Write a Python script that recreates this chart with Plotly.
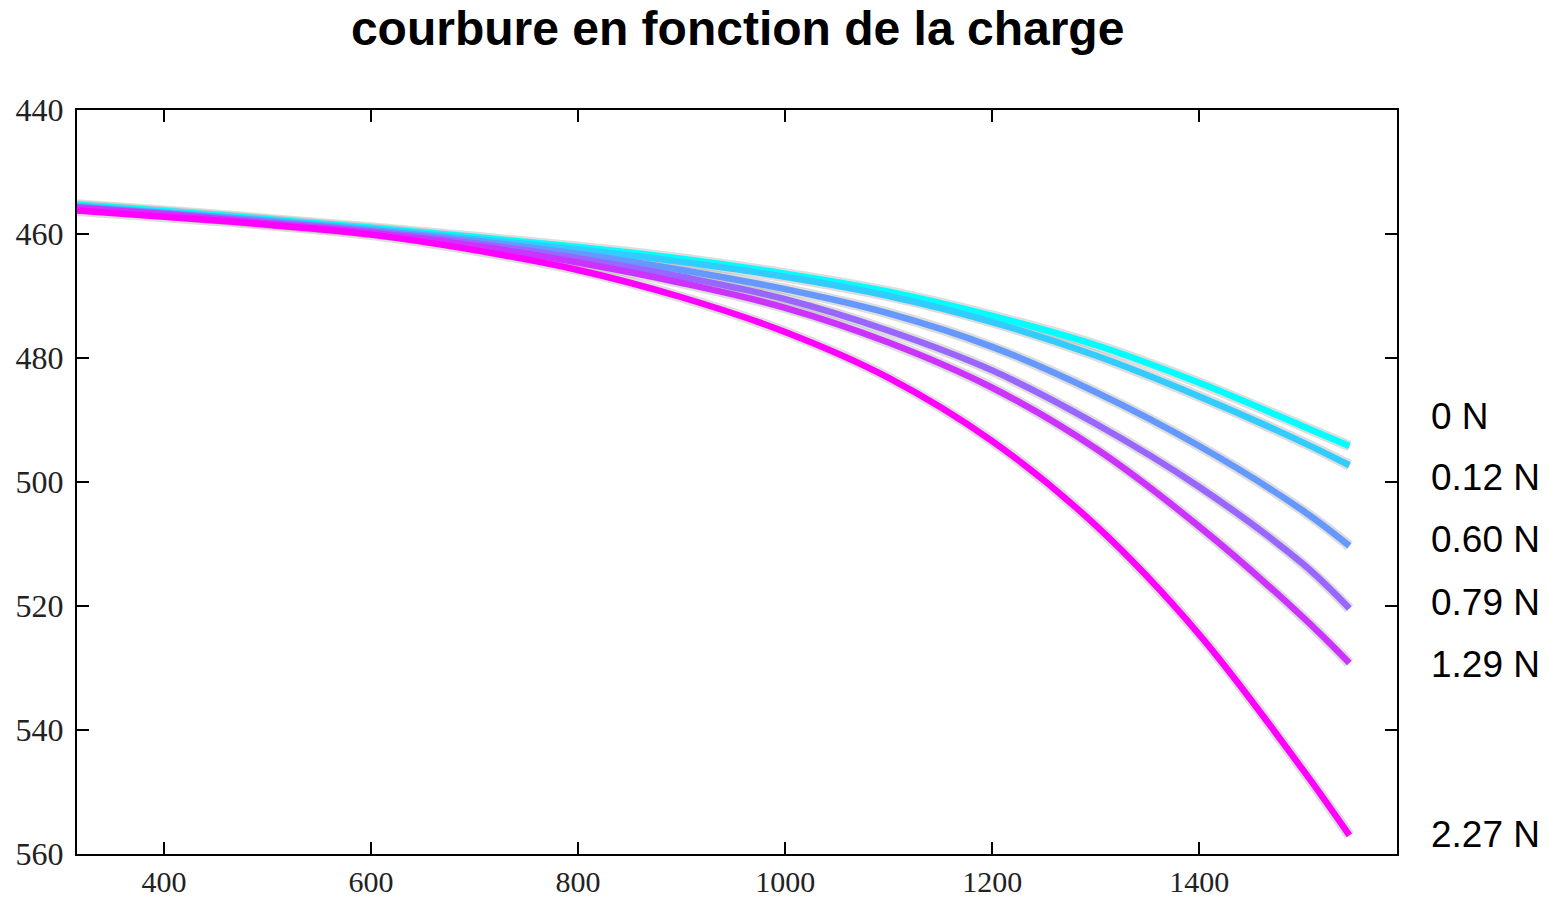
import plotly.graph_objects as go

# Positions along the beam and deflection readings for each applied load
x_pos = [316, 400, 500, 600, 700, 800, 900, 1000, 1100, 1200, 1300, 1400, 1500, 1545]

y_0N = [455.3, 456.3, 457.6, 459.0, 460.5, 462.1, 464.0, 466.4, 469.3, 473.2, 477.9, 484.0, 491.0, 494.2]
y_012N = [455.5, 456.5, 457.8, 459.2, 460.8, 462.5, 464.5, 466.9, 470.0, 474.2, 479.6, 486.2, 493.6, 497.3]
y_060N = [455.6, 456.6, 457.9, 459.4, 461.1, 463.2, 465.8, 468.9, 472.8, 478.2, 485.5, 494.2, 504.6, 510.3]
y_079N = [455.7, 456.7, 458.1, 459.6, 461.5, 463.9, 466.9, 470.5, 475.6, 482.0, 490.6, 500.8, 513.2, 520.4]
y_129N = [455.8, 456.8, 458.3, 459.8, 461.9, 464.6, 467.9, 471.9, 477.5, 484.8, 494.6, 507.2, 521.8, 529.2]
y_227N = [456.2, 457.2, 458.5, 460.1, 462.6, 465.8, 470.2, 475.8, 483.2, 493.4, 507.0, 524.6, 546.4, 557.0]

series = [y_0N, y_012N, y_060N, y_079N, y_129N, y_227N]
colors = ["#00ffff", "#33ccff", "#6699ff", "#9966ff", "#cc33ff", "#ff00ff"]

load_labels = ["0 N", "0.12 N", "0.60 N", "0.79 N", "1.29 N", "2.27 N"]
label_y = [489.5, 499.3, 509.2, 519.5, 529.5, 556.8]

x_ticks = [400, 600, 800, 1000, 1200, 1400]
y_ticks = [440, 460, 480, 500, 520, 540, 560]

fig = go.Figure()

# faint grey trace of the raw measurements under each fitted curve
for ys in series:
    fig.add_trace(go.Scatter(
        x=x_pos, y=ys, mode="lines",
        line=dict(color="rgba(170,170,170,0.4)", width=11, shape="spline"),
        hoverinfo="skip", showlegend=False,
    ))

for ys, c, name in zip(series, colors, load_labels):
    fig.add_trace(go.Scatter(
        x=x_pos, y=ys, mode="lines", name=name,
        line=dict(color=c, width=6.5, shape="spline"),
        showlegend=False,
    ))

for txt, yv in zip(load_labels, label_y):
    fig.add_annotation(
        x=1.0245, xref="paper", y=yv, yref="y",
        text=txt, showarrow=False, xanchor="left", yanchor="middle",
        font=dict(family="Liberation Sans", size=37, color="black"),
    )

axis_common = dict(
    showline=True, linecolor="black", linewidth=2, mirror="ticks",
    ticks="inside", ticklen=12, tickwidth=2, tickcolor="black",
    showgrid=False, zeroline=False, automargin=False,
)

fig.update_layout(
    width=1548, height=899,
    margin=dict(l=77, r=151, t=110, b=45),
    paper_bgcolor="white", plot_bgcolor="white",
    title=dict(
        text="courbure en fonction de la charge",
        x=0.4765, xanchor="center", y=1 - 28 / 899, yanchor="middle",
        font=dict(family="Liberation Sans", size=48, color="black", weight="bold"),
    ),
    xaxis=dict(range=[316, 1591], tickvals=x_ticks, ticklabelstandoff=0,
               tickfont=dict(family="Liberation Serif", size=30, color="#222"),
               **axis_common),
    yaxis=dict(range=[560, 440], tickvals=y_ticks, ticklabelstandoff=5,
               tickfont=dict(family="Liberation Serif", size=32, color="#222"),
               **axis_common),
)

fig.write_html("out.html")
